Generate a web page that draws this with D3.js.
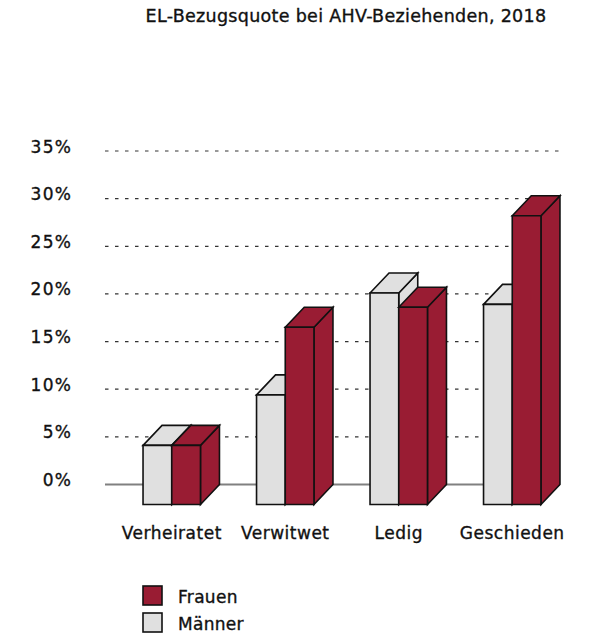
<!DOCTYPE html>
<html>
<head>
<meta charset="utf-8">
<script src="https://cdn.jsdelivr.net/npm/d3@7"></script>
<style>
  body { margin: 0; background: #fff; }
  text { font-family: "DejaVu Sans", sans-serif; fill: #111; stroke: #111; stroke-width: 0.35px; }
</style>
</head>
<body>
<div id="chart-container"></div>
<script>
// Data
const categories = ["Verheiratet", "Verwitwet", "Ledig", "Geschieden"];
const series = ["Männer", "Frauen"];
const maenner = [6.2, 11.5, 22.2, 21.0];
const frauen = [6.2, 18.6, 20.7, 30.3];
const tickValues = [0, 5, 10, 15, 20, 25, 30, 35];
const title = "EL-Bezugsquote bei AHV-Beziehenden, 2018";

const colors = { "Männer": "#e0e0e0", "Frauen": "#991c33" };
const values = { "Männer": maenner, "Frauen": frauen };

const width = 609, height = 644;
const depthX = 19, depthY = 20; // 3D offset of the back face

const svg = d3.select("#chart-container")
    .append("svg")
    .attr("width", width)
    .attr("height", height);

// Title
svg.append("text")
    .attr("x", 346)
    .attr("y", 22)
    .attr("text-anchor", "middle")
    .style("font-size", "17.5px")
    .style("letter-spacing", "0.3px")
    .text(title);

// y scale on the back wall
const y = d3.scaleLinear().domain([0, 35]).range([484.5, 151]);

// x scale for the front faces
const x = d3.scaleBand()
    .domain(categories)
    .range([115, 569])
    .paddingInner(0.494)
    .paddingOuter(0.247);

const xs = d3.scaleBand().domain(series).range([0, x.bandwidth()]);

// Grid lines (dashed) on the back wall
svg.append("g")
    .selectAll("line")
    .data(tickValues.filter(d => d > 0))
    .enter().append("line")
    .attr("x1", 105)
    .attr("x2", 560)
    .attr("y1", d => y(d))
    .attr("y2", d => y(d))
    .attr("stroke", "#333")
    .attr("stroke-width", 1.2)
    .attr("stroke-dasharray", "3.5,6.5");

// Baseline
svg.append("line")
    .attr("x1", 105)
    .attr("x2", 560)
    .attr("y1", y(0))
    .attr("y2", y(0))
    .attr("stroke", "#808080")
    .attr("stroke-width", 2);

// y-axis labels
const yAxis = svg.append("g")
    .attr("transform", "translate(75,0)")
    .call(d3.axisLeft(y).tickValues(tickValues).tickSize(0).tickPadding(3).tickFormat(d => d + "%"));
yAxis.select(".domain").remove();
yAxis.selectAll("text")
    .attr("dy", "0")
    .attr("y", 1)
    .style("font-size", "17px")
    .style("letter-spacing", "1.2px")
    .style("font-family", "DejaVu Sans, sans-serif")
    .attr("fill", "#111");

// 3D bars
function barPath(x0, w, yt, yb) {
    return `M${x0},${yt}L${x0 + w},${yt}L${x0 + w},${yb}L${x0},${yb}Z`;
}
function topPath(x0, w, yt) {
    return `M${x0},${yt}L${x0 + depthX},${yt - depthY}L${x0 + w + depthX},${yt - depthY}L${x0 + w},${yt}Z`;
}
function sidePath(x0, w, yt, yb) {
    return `M${x0 + w},${yt}L${x0 + w + depthX},${yt - depthY}L${x0 + w + depthX},${yb - depthY}L${x0 + w},${yb}Z`;
}

const bars = [];
categories.forEach((c, i) => {
    series.forEach(s => {
        bars.push({ category: c, series: s, value: values[s][i] });
    });
});

const barG = svg.append("g")
    .attr("stroke", "#111")
    .attr("stroke-width", 1.6)
    .attr("stroke-linejoin", "miter");

bars.forEach(d => {
    const x0 = x(d.category) + xs(d.series);
    const w = xs.bandwidth();
    const yb = y(0) + depthY;
    const yt = y(d.value) + depthY;
    const g = barG.append("g").attr("fill", colors[d.series]);
    g.append("path").attr("d", sidePath(x0, w, yt, yb));
    g.append("path").attr("d", topPath(x0, w, yt));
    g.append("path").attr("d", barPath(x0, w, yt, yb));
});

// Category labels
svg.append("g")
    .selectAll("text")
    .data(categories)
    .enter().append("text")
    .attr("x", d => x(d) + x.bandwidth() / 2)
    .attr("y", 539)
    .attr("text-anchor", "middle")
    .style("font-size", "17px")
    .style("letter-spacing", "0.5px")
    .text(d => d);

// Legend
const legendItems = ["Frauen", "Männer"];
const legend = svg.append("g")
    .selectAll("g")
    .data(legendItems)
    .enter().append("g")
    .attr("transform", (d, i) => `translate(143,${586 + i * 27})`);

legend.append("rect")
    .attr("width", 19)
    .attr("height", 19)
    .attr("fill", d => colors[d])
    .attr("stroke", "#111")
    .attr("stroke-width", 1.6);

legend.append("text")
    .attr("x", 35)
    .attr("y", 17)
    .style("font-size", "17px")
    .style("letter-spacing", "0.3px")
    .text(d => d);
</script>
</body>
</html>
